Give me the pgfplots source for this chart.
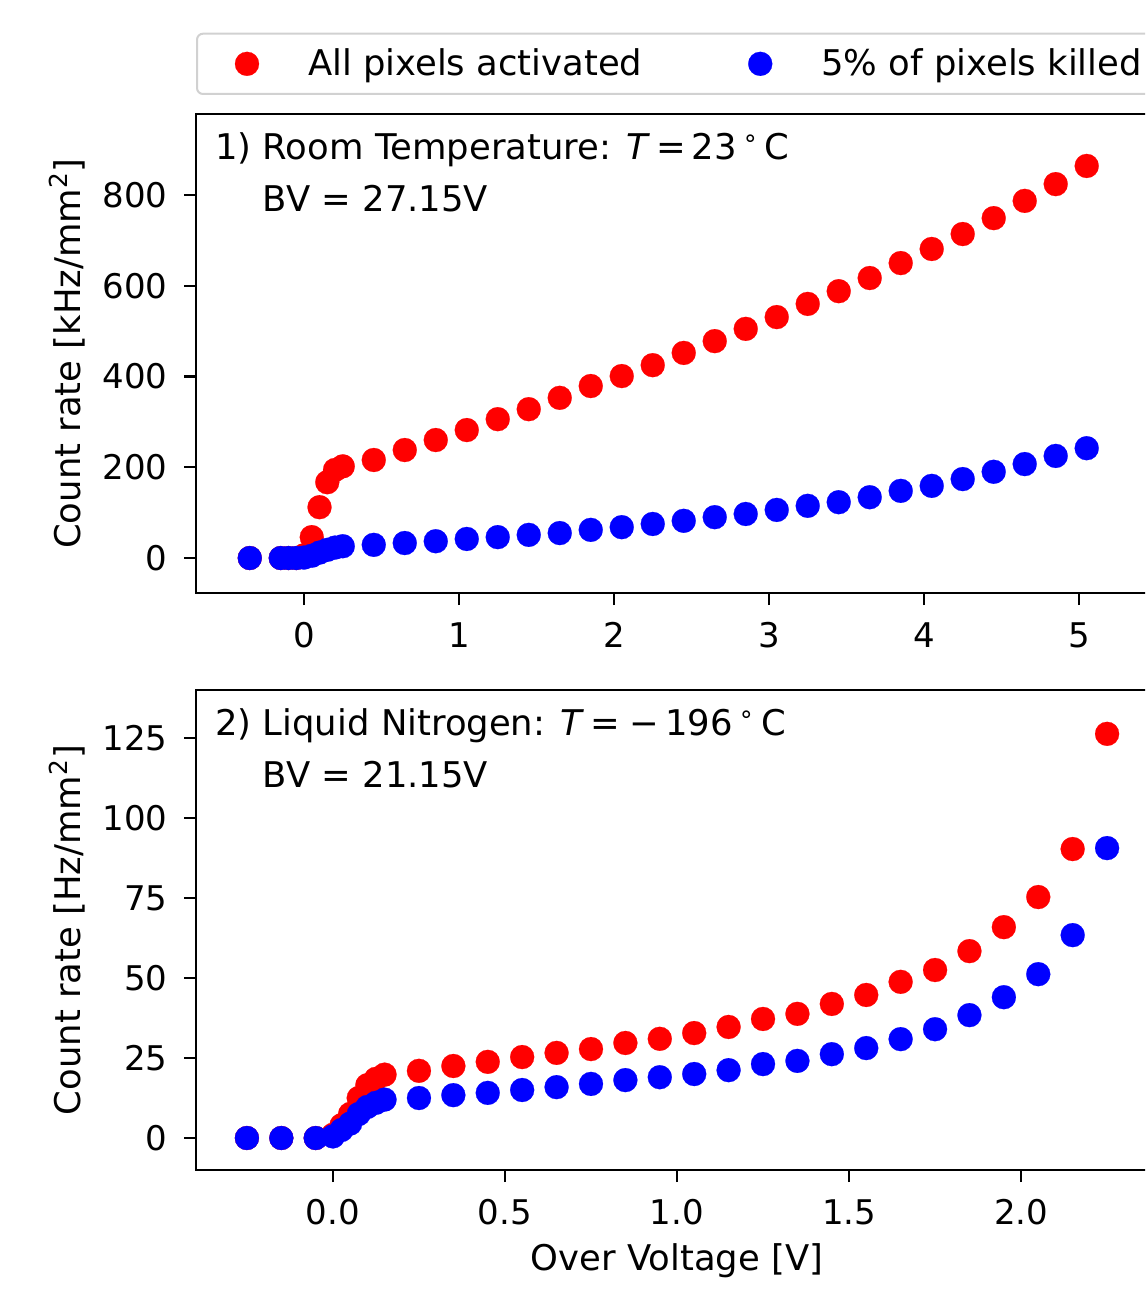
\documentclass[border=0pt]{standalone}
\usepackage{fontspec}
\setmainfont{DejaVu Sans}
\usepackage{pgfplots}
\pgfplotsset{compat=1.18}

\pgfplotstableread{
x y
-0.35 0
-0.15 0
-0.10 0
-0.05 0
0.00 6
0.05 46
0.10 112
0.15 167
0.20 194
0.25 202
0.45 216
0.65 238
0.85 260
1.05 282
1.25 306
1.45 328
1.65 353
1.85 379
2.05 401
2.25 425
2.45 452
2.65 478
2.85 505
3.05 531
3.25 560
3.45 588
3.65 617
3.85 650
4.05 681
4.25 714
4.45 749
4.65 787
4.85 824
5.05 864
}\topred

\pgfplotstableread{
x y
-0.35 0
-0.15 0
-0.10 0
-0.05 0
0.00 1
0.05 5
0.10 12
0.15 18
0.20 23
0.25 26
0.45 29
0.65 33
0.85 37
1.05 42
1.25 46
1.45 51
1.65 55
1.85 62
2.05 68
2.25 75
2.45 82
2.65 90
2.85 97
3.05 106
3.25 115
3.45 123
3.65 134
3.85 148
4.05 159
4.25 174
4.45 190
4.65 207
4.85 225
5.05 242
}\topblue

\pgfplotstableread{
x y
-0.25 0
-0.15 0
-0.05 0
0 1
0.025 4
0.05 7.5
0.075 12.5
0.1 16.5
0.125 18.5
0.15 19.8
0.25 21
0.35 22.5
0.45 23.8
0.55 25.3
0.65 26.6
0.75 27.8
0.85 29.7
0.95 31
1.05 32.8
1.15 34.7
1.25 37.2
1.35 38.8
1.45 41.9
1.55 44.7
1.65 48.8
1.75 52.5
1.85 58.4
1.95 65.9
2.05 75.3
2.15 90.3
2.25 126.3
}\botred

\pgfplotstableread{
x y
-0.25 0
-0.15 0
-0.05 0
0 0.5
0.025 2.5
0.05 4.5
0.075 7.5
0.1 9.7
0.125 11
0.15 12
0.25 12.5
0.35 13.4
0.45 14.1
0.55 15
0.65 15.9
0.75 16.9
0.85 18.1
0.95 19
1.05 20
1.15 21.2
1.25 23.1
1.35 24.1
1.45 26.2
1.55 28.1
1.65 30.9
1.75 34
1.85 38.4
1.95 44
2.05 51.2
2.15 63.4
2.25 90.6
}\botblue

\pgfplotsset{
  mystyle/.style={
    scale only axis, width=481pt,
    axis line style={line width=1.2pt},
    tick style={line width=1.2pt, black},
    major tick length=6pt, tick align=outside,
    xtick pos=left, ytick pos=left,
    /pgf/number format/assume math mode=true,
    scaled ticks=false,
    tick label style={font=\fontsize{17}{20.4}\selectfont},
    yticklabel style={inner sep=0pt, xshift=-8pt},
    xticklabel style={inner sep=0pt, yshift=-8.5pt},
    every axis y label/.style={at={(rel axis cs:0,0.5)}, anchor=center, xshift=-64.5pt, rotate=90},
    every axis x label/.style={at={(rel axis cs:0.5,0)}, anchor=center, yshift=-45.5pt},
    legend image code/.code={\path (-14.5pt,0pt) (30pt,0pt); \draw[##1] plot coordinates {(0pt,0pt)};},
  },
  redmk/.style={only marks, mark=*, mark size=6pt, color={rgb,1:red,1;green,0;blue,0}, mark options={line width=0.1pt}},
  bluemk/.style={only marks, mark=*, mark size=6pt, color={rgb,1:red,0;green,0;blue,1}, mark options={line width=0.1pt}},
}

\begin{document}
\begin{tikzpicture}[font=\fontsize{17.7}{21.2}\selectfont]
\path[use as bounding box] (0,0) rectangle (572.5pt,-647pt);
\clip (0,0) rectangle (572.5pt,-647pt);

\begin{axis}[mystyle, at={(98pt,-57pt)}, anchor=north west, height=239.5pt,
  xmin=-0.697, xmax=5.51, ymin=-77.1, ymax=978.5,
  xtick={0,1,2,3,4,5}, ytick={0,200,400,600,800},
  ylabel={Count rate [kHz/mm\textsuperscript{2}]},
  legend columns=2,
  legend cell align=left,
  legend style={at={(0,1)}, anchor=south west, yshift=9.5pt,
    draw=black!18, line width=1pt, rounded corners=3pt,
    inner xsep=10pt, inner ysep=7.6pt, column sep=0pt,
    nodes={inner sep=0pt},
    /tikz/every even column/.append style={column sep=44pt}},
]
\addplot[redmk] table {\topred};
\addlegendentry{All pixels activated}
\addplot[bluemk] table {\topblue};
\addlegendentry{5\% of pixels killed}
\node[anchor=north west, align=left, inner sep=0pt] at (rel axis cs:0,1) [xshift=9.5pt, yshift=-9pt]
  {1) Room Temperature: \textit{T}\,=\,23\,\textsuperscript{∘}\,C\\[5pt]\phantom{1)\ }BV = 27.15V};
\end{axis}

\begin{axis}[mystyle, at={(98pt,-345pt)}, anchor=north west, height=240pt,
  xmin=-0.398, xmax=2.398, ymin=-10, ymax=140,
  xtick={0,0.5,1,1.5,2}, ytick={0,25,50,75,100,125},
  xticklabel style={/pgf/number format/.cd, fixed, fixed zerofill, precision=1},
  xlabel={Over Voltage [V]},
  ylabel={Count rate [Hz/mm\textsuperscript{2}]},
]
\addplot[redmk] table {\botred};
\addplot[bluemk] table {\botblue};
\node[anchor=north west, align=left, inner sep=0pt] at (rel axis cs:0,1) [xshift=9.5pt, yshift=-9pt]
  {2) Liquid Nitrogen: \textit{T}\,=\;−\,196\,\textsuperscript{∘}\,C\\[5pt]\phantom{2)\ }BV = 21.15V};
\end{axis}
\end{tikzpicture}
\end{document}
